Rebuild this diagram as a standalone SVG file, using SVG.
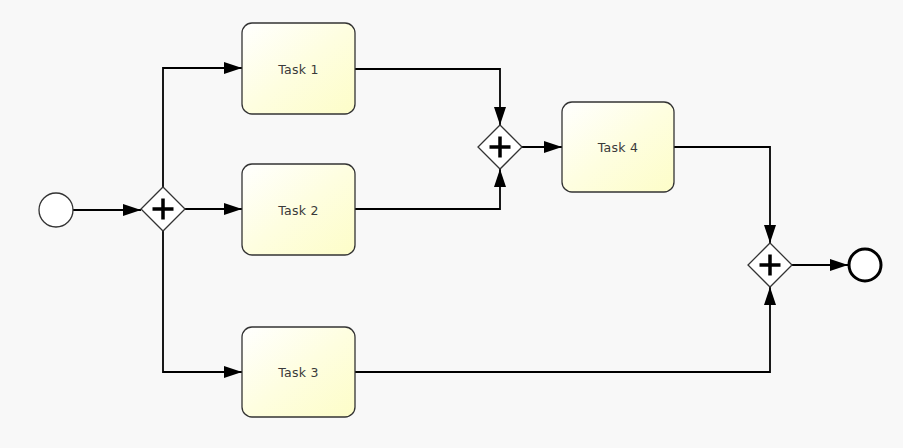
<svg xmlns="http://www.w3.org/2000/svg" width="903" height="448" viewBox="0 0 903 448">
<style>
.task{stroke:#333;stroke-width:1.3;fill:url(#tg)}
.lbl{font-family:"DejaVu Sans","Liberation Sans",sans-serif;font-size:12.5px;letter-spacing:0.3px;fill:#3a3a3a;text-anchor:middle;dominant-baseline:central}
.gw{fill:#fff;stroke:#333;stroke-width:1.3}
.plus{stroke:#000;stroke-width:3.5;fill:none}
.conn{fill:none;stroke:#000;stroke-width:1.8;marker-end:url(#ah)}
</style>
<defs>
<linearGradient id="tg" x1="0" y1="0" x2="1" y2="1">
<stop offset="0" stop-color="#ffffff"/>
<stop offset="0.5" stop-color="#fefee0"/>
<stop offset="1" stop-color="#fdfdc8"/>
</linearGradient>
<marker id="ah" viewBox="0 0 18 12" refX="18" refY="6" markerWidth="18" markerHeight="12" markerUnits="userSpaceOnUse" orient="auto">
<path d="M0,0 L18,6 L0,12 Z" fill="#000"/>
</marker>
</defs>
<rect width="903" height="448" fill="#f8f8f8"/>
<g id="connectors">
<path class="conn" d="M73,210 H141"/>
<path class="conn" d="M163,187 V68 H242"/>
<path class="conn" d="M185,209 H242"/>
<path class="conn" d="M163,231 V372 H242"/>
<path class="conn" d="M355,69 H500 V125"/>
<path class="conn" d="M355,209 H500 V169"/>
<path class="conn" d="M522,147 H562"/>
<path class="conn" d="M674,147 H770 V243"/>
<path class="conn" d="M355,372 H770 V287"/>
<path class="conn" d="M792,265 H848"/>
</g>
<g id="start"><circle cx="56" cy="210" r="17" fill="#fff" stroke="#333" stroke-width="1.3"/></g>
<g id="gw1"><path class="gw" d="M163,187 L185,209 L163,231 L141,209 Z"/><path class="plus" d="M152.5,209 H173.5 M163,198.5 V219.5"/></g>
<g id="task1"><rect class="task" x="242" y="23" width="113" height="91" rx="10"/><text class="lbl" x="298.5" y="69">Task 1</text></g>
<g id="task2"><rect class="task" x="242" y="164" width="113" height="91" rx="10"/><text class="lbl" x="298.5" y="210">Task 2</text></g>
<g id="task3"><rect class="task" x="242" y="327" width="113" height="90" rx="10"/><text class="lbl" x="298.5" y="372">Task 3</text></g>
<g id="gw2"><path class="gw" d="M500,125 L522,147 L500,169 L478,147 Z"/><path class="plus" d="M489.5,147 H510.5 M500,136.5 V157.5"/></g>
<g id="task4"><rect class="task" x="562" y="102" width="112" height="90" rx="10"/><text class="lbl" x="618" y="147">Task 4</text></g>
<g id="gw3"><path class="gw" d="M770,243 L792,265 L770,287 L748,265 Z"/><path class="plus" d="M759.5,265 H780.5 M770,254.5 V275.5"/></g>
<g id="end"><circle cx="865" cy="265" r="16" fill="#fff" stroke="#000" stroke-width="3"/></g>
</svg>
